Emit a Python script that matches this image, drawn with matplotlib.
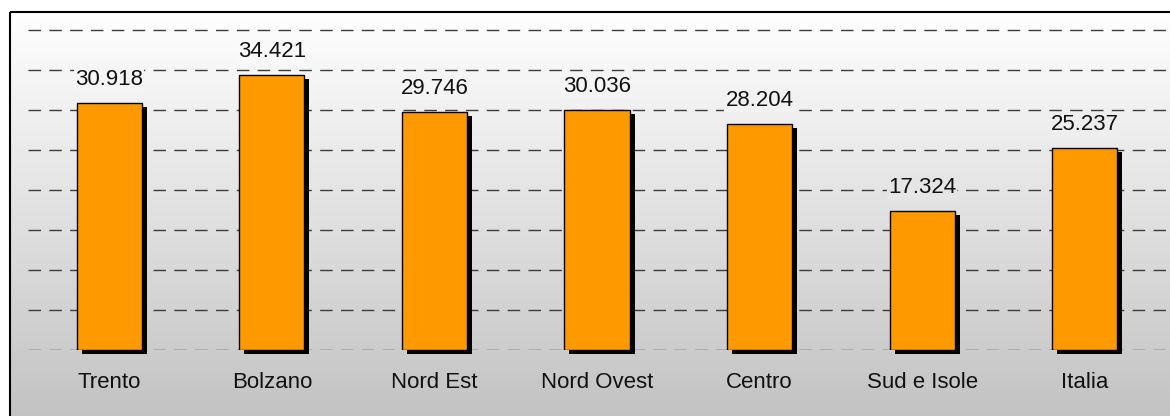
import numpy as np
import matplotlib
matplotlib.use("Agg")
import matplotlib.pyplot as plt
from matplotlib.patches import Rectangle
from matplotlib.transforms import ScaledTranslation

plt.rcParams['font.family'] = ['Liberation Sans', 'DejaVu Sans']

# dati
categorie = ['Trento', 'Bolzano', 'Nord Est', 'Nord Ovest', 'Centro', 'Sud e Isole', 'Italia']
valori = [30.918, 34.421, 29.746, 30.036, 28.204, 17.324, 25.237]
etichette = ['30.918', '34.421', '29.746', '30.036', '28.204', '17.324', '25.237']

W, H = 1170, 416
fig = plt.figure(figsize=(W / 100, H / 100), dpi=100)

# sfondo con sfumatura e cornice
g_top, g_bot = 11, H + 5
bg = fig.add_axes([0, 0, 1, 1])
bg.set_xlim(0, W)
bg.set_ylim(H, 0)
bg.axis('off')
grad = np.linspace(0, 1, 256).reshape(-1, 1)
bg.imshow(grad, cmap=matplotlib.colors.LinearSegmentedColormap.from_list(
    'g', ['#ffffff', '#c2c2c2']), aspect='auto', extent=[9, W + 10, g_bot, g_top],
    interpolation='bicubic')
bg.add_patch(Rectangle((9.5, 11.5), W + 20, H + 20, fill=False, ec='black', lw=1.5))


def sfondo(y_px):
    # colore della sfumatura alla quota y (pixel dall'alto)
    t = (y_px - g_top) / (g_bot - g_top)
    c = (255 - 61 * t) / 255
    return (c, c, c)


# area del grafico
x0, x1 = 28, 1166
y_base, y_top = 350, 11
scala = 8  # pixel per unità
ax = fig.add_axes([x0 / W, (H - y_base) / H, (x1 - x0) / W, (y_base - y_top) / H])
ax.set_facecolor('none')
ax.set_xlim(-0.5, len(categorie) - 0.5)
ax.set_ylim(0, (y_base - y_top) / scala)

ax.set_yticks(np.arange(0, 41, 5))
ax.set_xticks([])
ax.yaxis.grid(True, linestyle=(0, (9, 6)), color='#3c3c3c', lw=1)
ax.set_axisbelow(True)
ax.tick_params(left=False, labelleft=False)
for s in ax.spines.values():
    s.set_visible(False)

x = np.arange(len(categorie))
ombra = ax.transData + ScaledTranslation(5 / 100, -4 / 100, fig.dpi_scale_trans)
ax.bar(x, valori, 0.4, color='black', transform=ombra, clip_on=False, zorder=2)
ax.bar(x, valori, 0.4, color='#ff9900', edgecolor='black', lw=1, zorder=3)

for i, v in enumerate(valori):
    y_lab = y_base - v * scala - 25
    ax.annotate(etichette[i], (i, v), xytext=(0, 18), textcoords='offset pixels',
                ha='center', va='baseline', fontsize=16, color='#111111', zorder=4,
                bbox=dict(boxstyle='square,pad=0.05', fc=sfondo(y_lab), ec='none'))
    ax.annotate(categorie[i], (i, 0), xytext=(0, -33), textcoords='offset pixels',
                ha='center', va='center', fontsize=16, color='#111111',
                annotation_clip=False)

fig.savefig('out.png', dpi=100)
